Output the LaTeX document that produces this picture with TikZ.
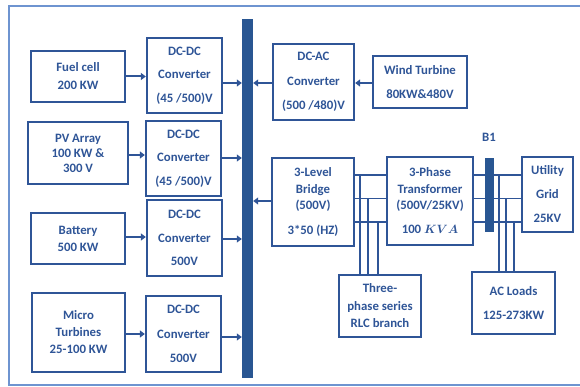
\documentclass[tikz,border=0pt]{standalone}
\usepackage{fontspec}
\setmainfont{Carlito}
\usetikzlibrary{arrows.meta}
\definecolor{bblue}{RGB}{47,85,151}
\definecolor{tblue}{RGB}{47,85,151}
\definecolor{busblue}{RGB}{41,86,146}
\definecolor{frameblue}{RGB}{110,148,208}
\begin{document}
\begin{tikzpicture}[x=1pt,y=-1pt,
  box/.style={draw=bblue, line width=2.3pt, text=tblue, align=center, inner sep=0pt},
  ls/.style={font=\bfseries\fontsize{12.8}{#1}\selectfont},
  arr/.style={draw=bblue, line width=2pt, -{Triangle[length=5pt,width=7pt]}},
  phase/.style={draw=bblue, line width=1.6pt},
  bar/.style={fill=busblue, inner sep=0pt}
]
\useasboundingbox (0,0) rectangle (580,387);
\draw[frameblue, line width=1.2pt] (580,6) -- (9,6) -- (9,385) -- (580,385);

% left sources
\node[box, ls=18, minimum width=94pt, minimum height=51pt] (fuel) at (78,76.5) {Fuel cell\\200 KW};
\node[box, ls=15, minimum width=100pt, minimum height=62pt] (pv) at (78,153) {PV Array\\100 KW \&\\300 V};
\node[box, ls=17, minimum width=94pt, minimum height=51pt] (bat) at (78,238.5) {Battery\\500 KW};
\node[box, ls=17, minimum width=93pt, minimum height=79pt] (micro) at (78.5,332.5) {Micro\\Turbines\\25-100 KW};

% converters
\node[box, ls=23.5, minimum width=75pt, minimum height=75pt] (dc1) at (184.5,75.5) {DC-DC\\Converter\\(45 /500)V};
\node[box, ls=23.5, minimum width=75pt, minimum height=75pt] (dc2) at (183.5,158.5) {DC-DC\\Converter\\(45 /500)V};
\node[box, ls=23.5, minimum width=75pt, minimum height=76pt] (dc3) at (184.5,238) {DC-DC\\Converter\\500V};
\node[box, ls=24.5, minimum width=75pt, minimum height=76pt] (dc4) at (183.5,334) {DC-DC\\Converter\\500V};

% bus
\node[bar, minimum width=11pt, minimum height=359pt] (bus) at (247.5,198.5) {};

% right side
\node[box, ls=24.5, minimum width=81pt, minimum height=76pt] (dcac) at (313.5,82) {DC-AC\\Converter\\(500 /480)V};
\node[box, ls=24, minimum width=94pt, minimum height=52pt] (wind) at (420,82) {Wind Turbine\\80KW\&480V};
\node[box, ls=16.5, minimum width=82pt, minimum height=88pt] (bridge) at (313,202) {3-Level\\Bridge\\(500V)\\[8.5pt]3*50 (HZ)};
\node[box, ls=16.5, minimum width=86pt, minimum height=88pt] (trans) at (430,201) {3-Phase\\Transformer\\(500V/25KV)\\[7.5pt]100 {\boldmath$KVA$}};
\node[box, ls=24, minimum width=51pt, minimum height=75pt] (grid) at (547.5,194.5) {Utility\\Grid\\25KV};
\node[box, ls=17.5, minimum width=82pt, minimum height=62pt] (rlc) at (380,306) {Three-\\phase series\\RLC branch};
\node[box, ls=24, minimum width=83pt, minimum height=62pt] (loads) at (513.5,303) {AC Loads\\125-273KW};
\node[text=tblue, ls=15] (b1lbl) at (489,137) {B1};

% row coordinates
\coordinate (r1) at (0,83);
\coordinate (r2a) at (0,155);
\coordinate (r2b) at (0,158);
\coordinate (r3) at (0,201);
\coordinate (r4a) at (0,237);
\coordinate (r4b) at (0,239);
\coordinate (r5a) at (0,334);
\coordinate (r5b) at (0,337);

% arrows
\draw[arr] (fuel.east) -- (fuel.east -| dc1.west);
\draw[arr] (dc1.east |- r1) -- (bus.west |- r1);
\draw[arr] (dcac.west |- r1) -- (bus.east |- r1);
\draw[arr] (wind.west |- r1) -- (dcac.east |- r1);
\draw[arr] (pv.east |- r2a) -- (dc2.west |- r2a);
\draw[arr] (dc2.east |- r2b) -- (bus.west |- r2b);
\draw[arr] (bridge.west |- r3) -- (bus.east |- r3);
\draw[arr] (bat.east |- r4a) -- (dc3.west |- r4a);
\draw[arr] (dc3.east |- r4b) -- (bus.west |- r4b);
\draw[arr] (micro.east |- r5a) -- (dc4.west |- r5a);
\draw[arr] (dc4.east |- r5b) -- (bus.west |- r5b);

% three-phase lines
\coordinate (pa) at (0,175);
\coordinate (pb) at (0,198.5);
\coordinate (pc) at (0,222);
\foreach \p in {pa,pb,pc}{
  \draw[phase] (bridge.east |- \p) -- (trans.west |- \p);
  \draw[phase] (trans.east |- \p) -- (grid.west |- \p);
}
\coordinate (va) at (360,175);
\coordinate (vb) at (368,198.5);
\coordinate (vc) at (378,222);
\coordinate (wa) at (499,175);
\coordinate (wb) at (506,198.5);
\coordinate (wc) at (514,222);
\foreach \v in {va,vb,vc}{ \draw[phase] (\v) -- (\v |- rlc.north); }
\foreach \w in {wa,wb,wc}{ \draw[phase] (\w) -- (\w |- loads.north); }

\node[bar, minimum width=9pt, minimum height=74pt] (b1) at (489.5,195) {};
\end{tikzpicture}
\end{document}
